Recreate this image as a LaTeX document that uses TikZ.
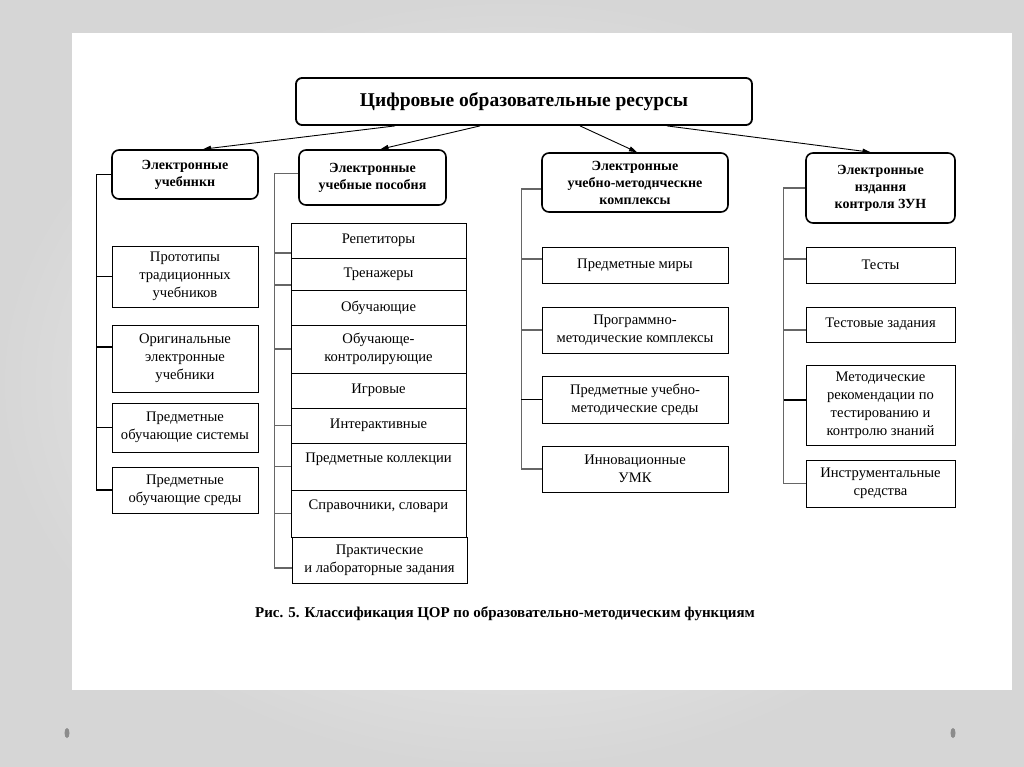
\documentclass[tikz,border=0pt]{standalone}
\usepackage{fontspec}
\setmainfont{Liberation Serif}
\usepackage{tikz}
\usetikzlibrary{arrows.meta,positioning}

\begin{document}
\begin{tikzpicture}[x=1pt, y=-1pt,
  head/.style={draw, line width=1.8pt, rounded corners=6pt, fill=white, align=center, font=\fontsize{19.5}{23}\selectfont\bfseries},
  group/.style={draw, line width=1.6pt, rounded corners=7pt, fill=white, align=center, inner sep=2pt, font=\fontsize{14}{17}\selectfont\bfseries},
  item/.style={draw, line width=0.9pt, fill=white, align=center, inner sep=2pt, font=\fontsize{14.6}{18}\selectfont},
  bar/.style={line width=1.2pt, black!60},
  arr/.style={line width=0.9pt, -{Triangle[length=8pt,width=5pt]}},
  captext/.style={font=\fontsize{15}{18}\selectfont\bfseries}]
% slide background
\useasboundingbox (0,0) rectangle (1024,767);
\shade[inner color=white!97!black, outer color=black!16] (0,0) rectangle (1024,767);
\fill[white] (72,33) rectangle (1012,690);
\fill[black!45] (67,733) ellipse [x radius=2.5, y radius=5];
\fill[black!45] (953,733) ellipse [x radius=2.5, y radius=5];

% top level
\node[head, minimum width=456pt, minimum height=47pt] (root) at (524,101.5) {Цифровые образовательные ресурсы};

% second level
\node[group, minimum width=146pt, minimum height=49pt] (uch) at (185,174.5) {Электронные\\ учебннкн};
\node[group, minimum width=147pt, minimum height=55pt] (pos) at (372.5,177.5) {Электронные\\ учебные пособня};
\node[group, minimum width=186pt, minimum height=59pt] (umk) at (635,182.5) {Электронные\\ учебно-методнческне\\ комплексы};
\node[group, minimum width=149pt, minimum height=70pt] (zun) at (880.5,188) {Электронные\\ нздання\\ контроля ЗУН};

\draw[arr] ([xshift=-129pt]root.south) -- ([xshift=18pt]uch.north);
\draw[arr] ([xshift=-44pt]root.south) -- ([xshift=8pt]pos.north);
\draw[arr] ([xshift=56pt]root.south) -- ([xshift=2pt]umk.north);
\draw[arr] ([xshift=143pt]root.south) -- ([xshift=-10pt]zun.north);

% column 1
\node[item, minimum width=146pt, minimum height=61pt] (u1) at (185,276.5) {Прототипы\\ традиционных\\ учебников};
\node[item, minimum width=146pt, minimum height=67pt] (u2) at (185,358.5) {Оригинальные\\ электронные\\ учебники};
\node[item, minimum width=146pt, minimum height=49pt] (u3) at (185,427.5) {Предметные\\ обучающие системы};
\node[item, minimum width=146pt, minimum height=46pt] (u4) at (185,490) {Предметные\\ обучающие среды};

% column 2
\node[item, minimum width=175pt, minimum height=35pt] (p1) at (378.5,240.5) {Репетиторы};
\node[item, minimum width=175pt, minimum height=32pt] (p2) at (378.5,274) {Тренажеры};
\node[item, minimum width=175pt, minimum height=35pt] (p3) at (378.5,307.5) {Обучающие};
\node[item, minimum width=175pt, minimum height=48pt] (p4) at (378.5,349) {Обучающе-\\ контролирующие};
\node[item, minimum width=175pt, minimum height=35pt] (p5) at (378.5,390.5) {Игровые};
\node[item, minimum width=175pt, minimum height=35pt] (p6) at (378.5,425.5) {Интерактивные};
\node[item, minimum width=175pt, minimum height=47pt, text depth=18pt] (p7) at (378.5,466.5) {Предметные коллекции};
\node[item, minimum width=175pt, minimum height=47pt, text depth=18pt] (p8) at (378.5,513.5) {Справочники, словари};
\node[item, minimum width=175pt, minimum height=46pt] (p9) at (379.5,560) {Практические\\ и лабораторные задания};

% column 3
\node[item, minimum width=186pt, minimum height=36pt] (m1) at (635,265) {Предметные миры};
\node[item, minimum width=186pt, minimum height=46pt] (m2) at (635,330) {Программно-\\ методические комплексы};
\node[item, minimum width=186pt, minimum height=47pt] (m3) at (635,399.5) {Предметные учебно-\\ методические среды};
\node[item, minimum width=186pt, minimum height=46pt] (m4) at (635,469) {Инновационные\\ УМК};

% column 4
\node[item, minimum width=149pt, minimum height=36pt] (z1) at (880.5,265) {Тесты};
\node[item, minimum width=149pt, minimum height=35pt] (z2) at (880.5,324.5) {Тестовые задания};
\node[item, minimum width=149pt, minimum height=80pt] (z3) at (880.5,405) {Методические\\ рекомендации по\\ тестированию и\\ контролю знаний};
\node[item, minimum width=149pt, minimum height=47pt] (z4) at (880.5,483.5) {Инструментальные\\ средства};

% brackets
\draw[bar, black] (uch.west) -- ++(-15,0) coordinate (b1) |- (u4.west);
\draw[bar, black] (b1 |- u1.west) -- (u1.west);
\draw[bar, black] ([yshift=11.5pt]u2.west) -- ++(-15,0);
\draw[bar, black] (b1 |- u3.west) -- (u3.west);

\draw[bar] ([yshift=4pt]pos.west) -- ++(-24,0) coordinate (b2) |- ([yshift=-8pt]p9.west);
\draw[bar] ([yshift=-12.5pt]p1.west) -- ++(-16,0);
\draw[bar] ([yshift=-11pt]p2.west) -- ++(-16,0);
\draw[bar] (b2 |- p4.west) -- (p4.west);
\draw[bar] (b2 |- p6.west) -- (p6.west);
\draw[bar] (b2 |- p7.west) -- (p7.west);
\draw[bar] (b2 |- p8.west) -- (p8.west);

\draw[bar] ([yshift=-6.5pt]umk.west) -- ++(-20,0) coordinate (b3) |- (m4.west);
\draw[bar] ([yshift=6pt]m1.west) -- ++(-20,0);
\draw[bar] (b3 |- m2.west) -- (m2.west);
\draw[bar, black] (b3 |- m3.west) -- (m3.west);

\draw[bar] (zun.west) -- ++(-22,0) coordinate (b4) |- (z4.west);
\draw[bar] ([yshift=6pt]z1.west) -- ++(-22,0);
\draw[bar] ([yshift=-5.5pt]z2.west) -- ++(-22,0);
\draw[bar, black] ([yshift=5pt]z3.west) -- ++(-22,0);

% caption
\node[captext] (caption) at (505,614) {Рис. 5. Классификация ЦОР по образовательно-методическим функциям};
\end{tikzpicture}
\end{document}
